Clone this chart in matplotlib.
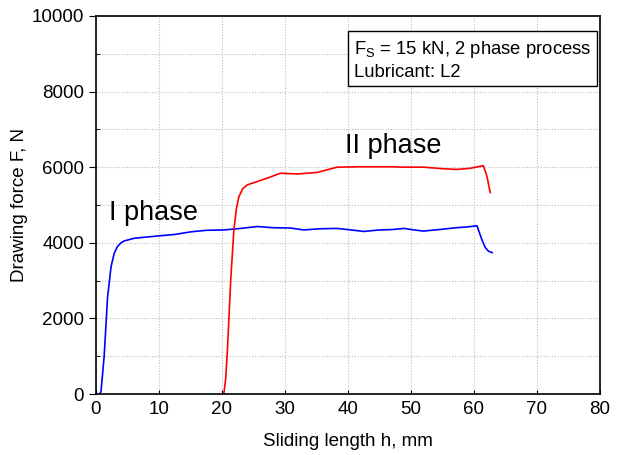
import matplotlib
matplotlib.use("Agg")
import matplotlib.pyplot as plt
from matplotlib.ticker import MultipleLocator

plt.rcParams['font.family'] = ['Liberation Sans', 'DejaVu Sans']

# phase I curve (blue)
h_phase1 = [0.6, 0.8, 1.3, 1.85, 2.4, 2.9, 3.4, 4.0, 4.5, 6.1, 9.8, 12.5, 15.1, 17.5,
            20.3, 23.0, 25.6, 28.0, 30.9, 33.0, 35.5, 38.3, 40.5, 42.5, 45.0,
            47.0, 48.9, 50.5, 52.0, 54.5, 57.3, 59.0, 60.5, 61.3, 61.8, 62.3, 62.9]
f_phase1 = [0, 60, 990, 2570, 3370, 3720, 3900, 4000, 4050, 4120, 4180, 4220, 4290,
            4330, 4340, 4380, 4430, 4400, 4390, 4340, 4370, 4380, 4340, 4300,
            4340, 4350, 4380, 4340, 4310, 4350, 4400, 4420, 4450, 4070, 3880,
            3780, 3740]

# phase II curve (red)
h_phase2 = [20.3, 20.6, 20.9, 21.4, 21.9, 22.3, 22.7, 23.3, 24.0, 25.6, 27.2, 29.3,
            32.0, 35.1, 38.3, 42.0, 46.7, 49.0, 52.0, 55.0, 57.3, 59.4, 61.5,
            62.1, 62.3, 62.6]
f_phase2 = [0, 400, 1250, 3020, 4340, 4900, 5220, 5430, 5530, 5620, 5710, 5840,
            5820, 5860, 6000, 6010, 6010, 6000, 6000, 5960, 5940, 5970, 6040,
            5750, 5570, 5330]

fig = plt.figure(figsize=(6.19, 4.55), dpi=100)
ax = fig.add_axes([0.155, 0.134, 0.814, 0.831])

ax.plot(h_phase1, f_phase1, color='blue', lw=1.2)
ax.plot(h_phase2, f_phase2, color='red', lw=1.2)

ax.set_xlim(0, 80)
ax.set_ylim(0, 10000)
ax.xaxis.set_major_locator(MultipleLocator(10))
ax.yaxis.set_major_locator(MultipleLocator(2000))
ax.yaxis.set_minor_locator(MultipleLocator(1000))
ax.grid(True, which='both', color='#bbbbbb', linestyle=(0, (1, 1.5)), linewidth=0.8)
ax.tick_params(axis='x', direction='in', length=3, labelsize=13.5, pad=5)
ax.tick_params(axis='y', which='major', direction='out', length=5, labelsize=13.5)
ax.tick_params(axis='y', which='minor', direction='in', length=3)
for s in ax.spines.values():
    s.set_linewidth(1.2)

ax.set_xlabel('Sliding length h, mm', fontsize=13.5, labelpad=11)
ax.set_ylabel('Drawing force F, N', fontsize=13.5, labelpad=3)

ax.text(2.0, 4780, 'I phase', fontsize=19.5, va='center', ha='left')
ax.text(39.6, 6560, 'II phase', fontsize=19.5, va='center', ha='left')
ax.text(40.9, 9400, '$\\mathregular{F_S}$ = 15 kN, 2 phase process\nLubricant: L2',
        fontsize=13.3, va='top', ha='left', linespacing=1.3,
        bbox=dict(boxstyle='square,pad=0.3', facecolor='white', edgecolor='black', lw=1))

fig.savefig('out.png', dpi=100)
